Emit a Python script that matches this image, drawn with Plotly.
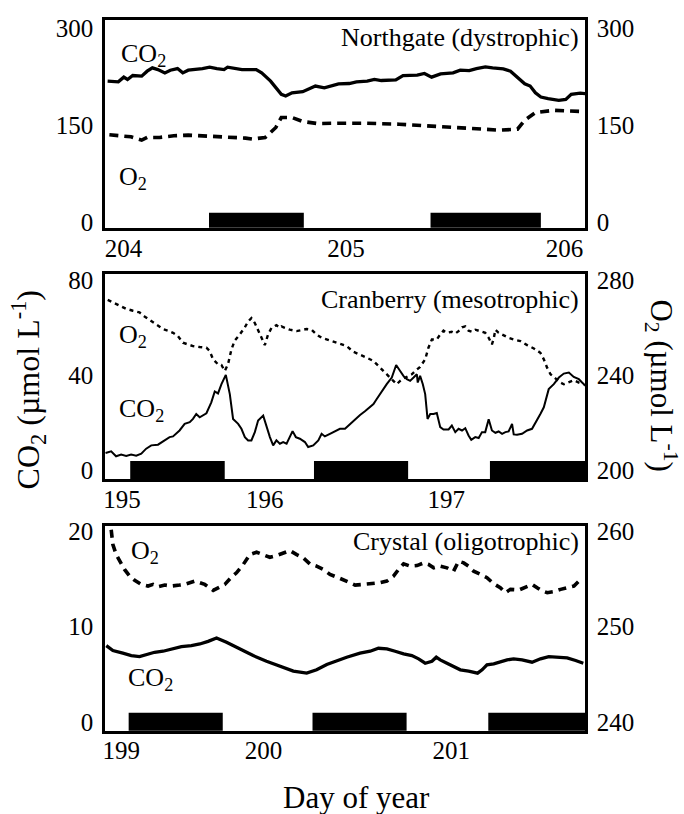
import plotly.graph_objects as go

# ---------------- DATA ----------------
# Panel 1: Northgate (dystrophic)
ng_co2_day = [203.909, 203.958, 203.983, 204.000, 204.024, 204.065, 204.090, 204.114, 204.139, 204.171,
              204.196, 204.229, 204.253, 204.278, 204.343, 204.376, 204.409, 204.442, 204.458, 204.491,
              204.524, 204.589, 204.614, 204.655, 204.679, 204.704, 204.724, 204.753, 204.802, 204.835,
              204.860, 204.901, 204.934, 204.966, 205.015, 205.048, 205.097, 205.130, 205.162, 205.228,
              205.261, 205.326, 205.359, 205.392, 205.433, 205.490, 205.523, 205.564, 205.597, 205.638,
              205.671, 205.720, 205.753, 205.785, 205.818, 205.843, 205.867, 205.892, 205.925, 205.974,
              206.006, 206.031, 206.072, 206.096]
ng_co2 = [218.3, 217.3, 224.5, 220.9, 227.0, 226.0, 233.7, 238.8, 236.2, 231.1,
          235.2, 237.7, 231.1, 235.2, 237.7, 239.8, 237.7, 236.2, 239.8, 237.7,
          236.2, 236.2, 231.1, 218.3, 208.1, 197.9, 195.3, 200.4, 202.0, 207.1,
          210.7, 208.1, 211.7, 214.2, 214.7, 217.3, 218.3, 220.9, 219.3, 220.4,
          227.0, 227.5, 230.1, 224.5, 229.6, 231.1, 235.2, 234.7, 237.7, 240.3,
          238.8, 237.2, 233.7, 224.5, 214.2, 210.7, 200.4, 193.8, 191.2, 188.7,
          190.2, 197.9, 199.9, 198.9]
ng_o2_day = [203.917, 203.967, 204.016, 204.065, 204.090, 204.147, 204.212, 204.278, 204.343, 204.409,
             204.474, 204.540, 204.573, 204.630, 204.655, 204.679, 204.704, 204.753, 204.802, 204.868,
             204.966, 205.080, 205.244, 205.375, 205.490, 205.621, 205.703, 205.785, 205.818, 205.867,
             205.949, 206.015, 206.096]
ng_o2 = [135.5, 134.0, 132.4, 127.3, 131.4, 131.4, 134.0, 135.0, 134.0, 132.4,
         131.4, 130.4, 128.9, 131.4, 139.1, 146.8, 162.1, 162.1, 156.0, 152.9,
         153.4, 153.4, 151.9, 149.3, 147.8, 144.2, 142.7, 144.2, 158.0, 169.8,
         173.3, 172.3, 171.3]
ng_nights = [(204.373, 204.807), (205.387, 205.892)]

# Panel 2: Cranberry (mesotrophic)
cb_co2_day = [195.122, 195.153, 195.180, 195.208, 195.236, 195.263, 195.291, 195.319, 195.346, 195.374,
              195.411, 195.448, 195.475, 195.494, 195.530, 195.558, 195.586, 195.604, 195.622, 195.641,
              195.659, 195.678, 195.705, 195.724, 195.742, 195.761, 195.785, 195.807, 195.825, 195.853,
              195.871, 195.890, 195.908, 195.926, 195.945, 195.963, 195.991, 196.009, 196.028, 196.046,
              196.064, 196.083, 196.101, 196.120, 196.138, 196.153, 196.171, 196.193, 196.221, 196.239,
              196.267, 196.295, 196.313, 196.331, 196.359, 196.387, 196.414, 196.442, 196.470, 196.497,
              196.525, 196.552, 196.580, 196.599, 196.617, 196.635, 196.654, 196.672, 196.700, 196.724,
              196.746, 196.764, 196.783, 196.801, 196.820, 196.838, 196.843, 196.856, 196.871, 196.884,
              196.897, 196.912, 196.930, 196.948, 196.967, 196.985, 197.013, 197.031, 197.050, 197.068,
              197.087, 197.105, 197.123, 197.138, 197.160, 197.179, 197.197, 197.215, 197.234, 197.252,
              197.271, 197.289, 197.308, 197.326, 197.344, 197.363, 197.372, 197.390, 197.418, 197.446,
              197.473, 197.501, 197.519, 197.538, 197.565, 197.593, 197.621, 197.648, 197.676, 197.703,
              197.731, 197.749, 197.768]
cb_co2 = [7.33, 8.02, 5.93, 6.63, 6.07, 6.63, 6.21, 7.05, 9.14, 10.53,
          10.81, 12.63, 14.02, 14.30, 16.81, 19.60, 20.30, 21.69, 23.78, 22.39,
          23.09, 24.06, 28.66, 33.27, 32.43, 36.34, 40.24, 32.15, 21.69, 19.60,
          17.51, 14.02, 12.63, 12.63, 16.11, 21.00, 23.09, 18.20, 14.02, 10.53,
          12.63, 11.23, 11.93, 11.23, 14.02, 16.53, 14.02, 13.32, 11.93, 9.84,
          10.53, 12.63, 15.42, 14.30, 15.42, 16.39, 17.51, 17.51, 19.60, 21.69,
          23.37, 24.90, 26.57, 27.97, 30.06, 32.15, 34.24, 36.34, 39.13, 44.42,
          41.91, 39.82, 38.43, 37.73, 39.13, 40.52, 37.03, 39.82, 36.34, 32.15,
          21.69, 23.78, 23.78, 24.20, 18.20, 17.23, 17.23, 18.90, 16.11, 17.51,
          16.81, 17.79, 14.72, 12.90, 14.02, 13.60, 16.11, 16.11, 21.55, 16.81,
          15.83, 16.39, 15.42, 16.11, 16.39, 19.60, 15.14, 15.00, 15.42, 16.81,
          17.51, 21.00, 23.78, 26.57, 34.24, 36.34, 39.13, 40.80, 41.22, 39.40,
          38.43, 37.03, 35.64]
cb_o2_day = [195.134, 195.171, 195.199, 195.236, 195.273, 195.309, 195.337, 195.365, 195.401, 195.438,
             195.466, 195.494, 195.521, 195.549, 195.576, 195.604, 195.641, 195.678, 195.696, 195.715,
             195.742, 195.761, 195.779, 195.797, 195.816, 195.834, 195.862, 195.890, 195.908, 195.926,
             195.945, 195.963, 195.982, 196.000, 196.018, 196.037, 196.064, 196.083, 196.092, 196.110,
             196.138, 196.175, 196.203, 196.230, 196.258, 196.285, 196.313, 196.341, 196.378, 196.414,
             196.451, 196.488, 196.525, 196.562, 196.599, 196.626, 196.654, 196.681, 196.709, 196.727,
             196.746, 196.764, 196.792, 196.810, 196.829, 196.856, 196.884, 196.902, 196.921, 196.948,
             196.967, 196.985, 197.004, 197.031, 197.050, 197.068, 197.087, 197.105, 197.123, 197.142,
             197.160, 197.188, 197.215, 197.234, 197.252, 197.262, 197.271, 197.289, 197.317, 197.344,
             197.372, 197.409, 197.446, 197.483, 197.519, 197.538, 197.556, 197.575, 197.602, 197.630,
             197.648, 197.676, 197.703, 197.731, 197.759]
cb_o2 = [271.9, 270.5, 269.5, 268.1, 267.3, 266.6, 264.9, 263.5, 261.4, 259.6,
         258.9, 258.0, 256.6, 253.8, 253.1, 252.4, 252.0, 251.7, 250.3, 246.8,
         244.7, 244.4, 241.9, 244.7, 251.0, 254.7, 257.3, 260.3, 262.8, 264.2,
         262.1, 259.3, 255.9, 252.8, 257.3, 260.1, 261.2, 260.1, 260.7, 260.1,
         259.3, 258.7, 259.1, 259.6, 259.3, 257.3, 255.9, 255.2, 254.2, 253.1,
         252.4, 250.0, 248.9, 247.5, 246.1, 244.0, 241.9, 239.8, 237.7, 236.3,
         237.7, 238.7, 239.8, 240.5, 241.9, 243.6, 246.8, 251.7, 255.2, 255.2,
         257.3, 258.9, 258.0, 258.4, 257.7, 258.7, 260.3, 260.7, 258.9, 258.4,
         259.3, 258.7, 258.0, 255.9, 253.1, 255.6, 259.3, 258.0, 256.8, 255.9,
         255.2, 254.5, 252.8, 251.4, 249.6, 246.8, 243.3, 240.5, 238.8, 237.0,
         236.3, 237.0, 238.0, 237.0, 236.3]
cb_nights = [(195.258, 195.779), (196.271, 196.790), (197.241, 197.765)]

# Panel 3: Crystal (oligotrophic)
cr_co2_day = [199.163, 199.198, 199.251, 199.296, 199.340, 199.376, 199.420, 199.465, 199.509, 199.563,
              199.616, 199.661, 199.705, 199.750, 199.803, 199.874, 199.945, 200.016, 200.088, 200.159,
              200.230, 200.283, 200.337, 200.390, 200.443, 200.514, 200.568, 200.612, 200.657, 200.701,
              200.746, 200.790, 200.826, 200.861, 200.897, 200.920, 200.941, 200.977, 201.012, 201.048,
              201.092, 201.140, 201.164, 201.190, 201.226, 201.261, 201.297, 201.332, 201.377, 201.430,
              201.475, 201.519, 201.573, 201.617, 201.662, 201.703]
cr_co2 = [8.00, 7.48, 7.20, 6.95, 6.85, 7.02, 7.30, 7.41, 7.65, 7.89,
          8.00, 8.17, 8.45, 8.80, 8.35, 7.65, 6.95, 6.36, 5.81, 5.32,
          5.11, 5.46, 6.02, 6.43, 6.78, 7.20, 7.41, 7.72, 7.65, 7.41,
          7.13, 6.95, 6.61, 6.15, 6.36, 6.78, 6.50, 6.15, 5.81, 5.46,
          5.32, 5.11, 5.46, 5.98, 6.08, 6.33, 6.50, 6.61, 6.50, 6.26,
          6.61, 6.85, 6.78, 6.71, 6.43, 6.15]
cr_o2_day = [199.189, 199.198, 199.216, 199.234, 199.260, 199.287, 199.314, 199.349, 199.385, 199.412,
             199.438, 199.474, 199.509, 199.554, 199.590, 199.634, 199.661, 199.687, 199.732, 199.759,
             199.794, 199.830, 199.856, 199.892, 199.927, 199.963, 199.999, 200.034, 200.070, 200.105,
             200.141, 200.177, 200.212, 200.247, 200.283, 200.319, 200.354, 200.399, 200.443, 200.488,
             200.532, 200.577, 200.621, 200.657, 200.692, 200.719, 200.746, 200.781, 200.817, 200.853,
             200.879, 200.906, 200.941, 200.977, 201.012, 201.039, 201.066, 201.092, 201.119, 201.155,
             201.190, 201.226, 201.261, 201.288, 201.315, 201.360, 201.404, 201.431, 201.457, 201.484,
             201.511, 201.546, 201.582, 201.617, 201.653, 201.680]
cr_o2 = [260.17, 258.61, 257.56, 256.87, 256.00, 255.30, 254.85, 254.43, 254.26, 254.43,
         254.19, 254.36, 254.26, 254.36, 254.50, 254.78, 254.61, 254.43, 253.81, 254.08,
         254.43, 255.20, 255.65, 256.52, 257.56, 257.81, 257.56, 257.28, 257.46, 257.74,
         257.98, 257.56, 257.21, 256.59, 256.35, 256.00, 255.48, 255.13, 254.78, 254.36,
         254.43, 254.50, 254.61, 254.78, 255.30, 256.00, 256.59, 256.35, 256.41, 256.69,
         256.52, 256.17, 256.35, 256.17, 255.82, 256.87, 256.69, 256.35, 255.82, 255.48,
         255.13, 254.50, 254.08, 253.56, 253.91, 253.84, 254.26, 254.43, 254.08, 253.74,
         253.56, 253.67, 253.91, 254.08, 254.26, 254.78]
cr_nights = [(199.282, 199.783), (200.261, 200.762), (201.197, 201.712)]

# Axis ticks / labels
ng_xticks, ng_xlabels = [203.982, 205, 206], ["204", "205", "206"]
cb_xticks, cb_xlabels = [195.213, 196, 197], ["195", "196", "197"]
cr_xticks, cr_xlabels = [199.242, 200, 201], ["199", "200", "201"]
ng_left_ticks, ng_right_ticks = [0, 150, 300], [0, 150, 300]
cb_left_ticks, cb_right_ticks = [0, 40, 80], [200, 240, 280]
cr_left_ticks, cr_right_ticks = [0, 10, 20], [240, 250, 260]

# ---------------- LAYOUT HELPERS ----------------
W, H = 684, 814
L, R = 105, 585          # plot box left/right in px
T, B = 15, 731           # overall plot area top/bottom in px
FONT = "'Liberation Serif', 'Times New Roman', Times, serif"
TICK_SIZE = 25
LABEL_SIZE = 26
TITLE_SIZE = 31
BLACK = "black"


def ydom(top_px, bot_px):
    h = B - T
    return [(B - bot_px) / h, (B - top_px) / h]


def px(xp, yp):
    return (xp - L) / (R - L), (B - yp) / (B - T)


panels = [
    dict(dom=ydom(15, 224.3), xr=[203.897, 206.094], yl=[-8.1, 312.7], yr=[-8.1, 312.7],
         xt=(ng_xticks, ng_xlabels), ylt=ng_left_ticks, yrt=ng_right_ticks,
         co2=(ng_co2_day, ng_co2), o2=(ng_o2_day, ng_o2), nights=ng_nights, barh=0.073,
         co2w=3.3, o2w=3.6, o2dash="9px,6px"),
    dict(dom=ydom(271, 477.7), xr=[195.119, 197.765], yl=[-3.85, 82.7], yr=[196.15, 282.7],
         xt=(cb_xticks, cb_xlabels), ylt=cb_left_ticks, yrt=cb_right_ticks,
         co2=(cb_co2_day, cb_co2), o2=(cb_o2_day, cb_o2), nights=cb_nights, barh=0.09,
         co2w=2.0, o2w=2.4, o2dash="4px,4px"),
    dict(dom=ydom(525, 730.7), xr=[199.156, 201.712], yl=[-0.94, 20.52], yr=[239.06, 260.52],
         xt=(cr_xticks, cr_xlabels), ylt=cr_left_ticks, yrt=cr_right_ticks,
         co2=(cr_co2_day, cr_co2), o2=(cr_o2_day, cr_o2), nights=cr_nights, barh=0.0875,
         co2w=3.3, o2w=3.6, o2dash="8px,6px"),
]

fig = go.Figure()
layout = dict(
    width=W, height=H,
    margin=dict(l=L, r=W - R, t=T, b=H - B, pad=0),
    paper_bgcolor="white", plot_bgcolor="white",
    showlegend=False,
    font=dict(family=FONT, size=TICK_SIZE, color=BLACK),
)
shapes = []
annotations = []

for i, p in enumerate(panels):
    n = i + 1
    xa = "x" if n == 1 else f"x{n}"
    yl_name = 2 * n - 1
    yr_name = 2 * n
    yl = "y" if yl_name == 1 else f"y{yl_name}"
    yr = f"y{yr_name}"

    fig.add_trace(go.Scatter(x=p["co2"][0], y=p["co2"][1], xaxis=xa, yaxis=yl, mode="lines",
                             line=dict(color=BLACK, width=p["co2w"]), hoverinfo="skip"))
    fig.add_trace(go.Scatter(x=p["o2"][0], y=p["o2"][1], xaxis=xa, yaxis=yr, mode="lines",
                             line=dict(color=BLACK, width=p["o2w"], dash=p["o2dash"]), hoverinfo="skip"))

    axcommon = dict(showgrid=False, zeroline=False, ticks="", showline=True, linecolor=BLACK,
                    linewidth=2.5, tickfont=dict(family=FONT, size=TICK_SIZE, color=BLACK))
    layout["xaxis" if n == 1 else f"xaxis{n}"] = dict(
        axcommon, domain=[0, 1], anchor=yl, range=p["xr"], mirror=True,
        tickmode="array", tickvals=p["xt"][0], ticktext=p["xt"][1], ticklabelstandoff=-4)
    layout["yaxis" if yl_name == 1 else f"yaxis{yl_name}"] = dict(
        axcommon, domain=p["dom"], anchor=xa, range=p["yl"], side="left",
        tickmode="array", tickvals=p["ylt"], ticklabelstandoff=4)
    layout[f"yaxis{yr_name}"] = dict(
        axcommon, anchor=xa, overlaying=yl, range=p["yr"], side="right",
        tickmode="array", tickvals=p["yrt"], ticklabelstandoff=4)

    for (s, e) in p["nights"]:
        shapes.append(dict(type="rect", xref=xa, yref=f"{yl} domain", x0=s, x1=e, y0=0, y1=p["barh"],
                           fillcolor=BLACK, line=dict(width=0), layer="below"))


def ann(text, xp, yp, size=LABEL_SIZE, xanchor="center", angle=0):
    x, y = px(xp, yp)
    annotations.append(dict(text=text, x=x, y=y, xref="paper", yref="paper", showarrow=False,
                            xanchor=xanchor, yanchor="middle", textangle=angle,
                            font=dict(family=FONT, size=size, color=BLACK)))


# panel titles
ann("Northgate (dystrophic)", 581, 33, xanchor="right")
ann("Cranberry (mesotrophic)", 581, 296, xanchor="right")
ann("Crystal (oligotrophic)", 581, 540, xanchor="right")
# series labels
ann("CO<sub>2</sub>", 143, 50)
ann("O<sub>2</sub>", 133, 174)
ann("O<sub>2</sub>", 133, 333)
ann("CO<sub>2</sub>", 141, 408)
ann("O<sub>2</sub>", 145, 551)
ann("CO<sub>2</sub>", 150, 679)
# axis titles
ann("Day of year", 356, 798, size=TITLE_SIZE)
ann("CO<sub>2</sub> (µmol L<sup>-1</sup>)", 28, 388, size=32, angle=-90)
ann("O<sub>2</sub> (µmol L<sup>-1</sup>)", 661, 383, size=TITLE_SIZE, angle=90)

layout["shapes"] = shapes
layout["annotations"] = annotations
fig.update_layout(**layout)
fig.write_html("out.html")
